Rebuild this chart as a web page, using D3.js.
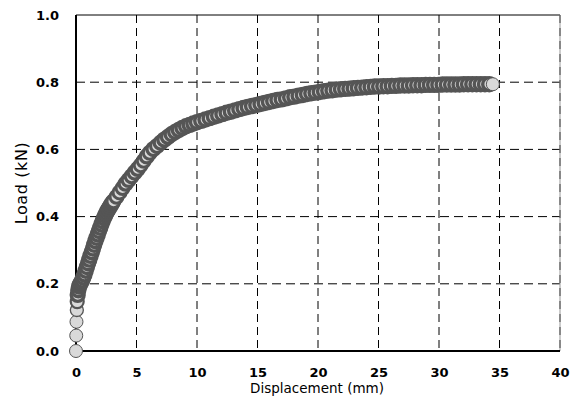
<!DOCTYPE html>
<html>
<head>
<meta charset="utf-8">
<script src="https://cdn.jsdelivr.net/npm/d3@7.9.0/dist/d3.min.js"></script>
<style>
  body { margin: 0; background: #fff; }
  svg { display: block; }
  .tick text { font-family: "DejaVu Sans", sans-serif; font-size: 13px; font-weight: bold; fill: #000; }
  .title { font-family: "DejaVu Sans", sans-serif; fill: #000; }
</style>
</head>
<body>
<svg id="chart" width="580" height="405"></svg>
<script>
// test data
const displacement = [
  0, 0.02, 0.04, 0.07, 0.1, 0.14, 0.19, 0.25, 0.32, 0.4,
  0.5, 0.6, 0.7, 0.8, 0.9, 1.0, 1.1, 1.2, 1.3, 1.4,
  1.5, 1.6, 1.7, 1.8, 1.9, 2.0, 2.1, 2.2, 2.3, 2.4,
  2.5, 2.6, 2.7, 2.8, 2.9, 3.0, 3.1, 3.35, 3.6, 3.85,
  4.1, 4.35, 4.6, 4.85, 5.1, 5.35, 5.6, 5.85, 6.1, 6.4,
  6.7, 7.0, 7.3, 7.6, 7.9, 8.2, 8.5, 8.8, 9.1, 9.4,
  9.7, 10.0, 10.35, 10.7, 11.05, 11.4, 11.75, 12.1, 12.45, 12.8,
  13.15, 13.5, 13.85, 14.2, 14.55, 14.9, 15.25, 15.6, 15.95, 16.3,
  16.65, 17.0, 17.35, 17.7, 18.05, 18.4, 18.75, 19.1, 19.45, 19.8,
  20.15, 20.5, 20.85, 21.2, 21.55, 21.9, 22.25, 22.6, 22.95, 23.3,
  23.65, 24.0, 24.35, 24.7, 25.05, 25.4, 25.75, 26.1, 26.45, 26.8,
  27.15, 27.5, 27.85, 28.2, 28.55, 28.9, 29.25, 29.6, 29.95, 30.3,
  30.65, 31.0, 31.35, 31.7, 32.05, 32.4, 32.75, 33.1, 33.45, 33.8,
  34.15, 34.45
];
const load = [
  0, 0.046, 0.087, 0.122, 0.147, 0.167, 0.181, 0.192, 0.197, 0.203,
  0.21, 0.219, 0.228, 0.239, 0.25, 0.261, 0.272, 0.283, 0.294, 0.305,
  0.316, 0.327, 0.337, 0.347, 0.357, 0.367, 0.377, 0.386, 0.395, 0.403,
  0.41, 0.417, 0.423, 0.429, 0.435, 0.441, 0.446, 0.459, 0.472, 0.485,
  0.498, 0.509, 0.52, 0.531, 0.542, 0.553, 0.566, 0.579, 0.59, 0.601,
  0.61, 0.62, 0.629, 0.637, 0.645, 0.652, 0.658, 0.664, 0.669, 0.673,
  0.677, 0.681, 0.685, 0.689, 0.693, 0.697, 0.701, 0.705, 0.709, 0.712,
  0.716, 0.72, 0.723, 0.726, 0.729, 0.732, 0.735, 0.738, 0.741, 0.744,
  0.747, 0.749, 0.752, 0.755, 0.757, 0.76, 0.762, 0.765, 0.767, 0.769,
  0.771, 0.773, 0.775, 0.776, 0.778, 0.779, 0.78, 0.781, 0.782, 0.783,
  0.784, 0.785, 0.786, 0.787, 0.787, 0.788, 0.788, 0.789, 0.789, 0.79,
  0.79, 0.79, 0.791, 0.791, 0.791, 0.792, 0.792, 0.792, 0.792, 0.793,
  0.793, 0.793, 0.793, 0.793, 0.794, 0.794, 0.794, 0.794, 0.794, 0.794,
  0.794, 0.794
];
const xTicks = [0, 5, 10, 15, 20, 25, 30, 35, 40];
const yTicks = [0, 0.2, 0.4, 0.6, 0.8, 1.0];

const svg = d3.select('#chart');
const x = d3.scaleLinear().domain([0, 40]).range([76, 560]);
const y = d3.scaleLinear().domain([0, 1]).range([351, 15]);

const points = displacement.map((d, i) => ({ x: d, y: load[i] }));

// markers packed closely read darker: outline weight follows the gap to the next marker
const gapToWidth = d3.scaleLinear().domain([4.5, 9]).range([3.4, 1]).clamp(true);
points.forEach((p, i) => {
  const n = points[i + 1];
  const gap = n ? Math.hypot(x(n.x) - x(p.x), y(n.y) - y(p.y)) : 99;
  p.sw = gapToWidth(gap);
});

// dashed grid
svg.append('g')
  .selectAll('line')
  .data(xTicks.slice(1, -1))
  .join('line')
  .attr('x1', d => x(d)).attr('x2', d => x(d))
  .attr('y1', y(1)).attr('y2', y(0))
  .attr('stroke', '#000')
  .attr('stroke-dasharray', '8,5');

svg.append('g')
  .selectAll('line')
  .data(yTicks.slice(1, -1))
  .join('line')
  .attr('x1', x(0)).attr('x2', x(40))
  .attr('y1', d => y(d)).attr('y2', d => y(d))
  .attr('stroke', '#000')
  .attr('stroke-dasharray', '9,5');

// frame
svg.append('line')
  .attr('x1', x(0)).attr('x2', x(40)).attr('y1', y(1)).attr('y2', y(1))
  .attr('stroke', '#000').attr('stroke-width', 1);
svg.append('line')
  .attr('x1', x(40)).attr('x2', x(40)).attr('y1', y(1)).attr('y2', y(0))
  .attr('stroke', '#999').attr('stroke-width', 1);
svg.append('line')
  .attr('x1', x(40)).attr('x2', x(40)).attr('y1', y(1)).attr('y2', y(0))
  .attr('stroke', '#444').attr('stroke-width', 1)
  .attr('stroke-dasharray', '8,5');

// axes (labels only)
const xAxis = svg.append('g')
  .attr('transform', `translate(0,${y(0)})`)
  .call(d3.axisBottom(x).tickValues(xTicks).tickSize(0).tickPadding(17).tickFormat(d3.format('d')));
xAxis.select('.domain').remove();

const yAxis = svg.append('g')
  .attr('transform', `translate(${x(0)},0)`)
  .call(d3.axisLeft(y).tickValues(yTicks).tickSize(0).tickPadding(17).tickFormat(d3.format('.1f')));
yAxis.select('.domain').remove();

svg.append('line')
  .attr('x1', x(0)).attr('x2', x(40)).attr('y1', y(0)).attr('y2', y(0))
  .attr('stroke', '#000').attr('stroke-width', 2);
svg.append('line')
  .attr('x1', x(0)).attr('x2', x(0)).attr('y1', y(1)).attr('y2', y(0))
  .attr('stroke', '#000').attr('stroke-width', 2);

// markers
svg.append('g')
  .selectAll('circle')
  .data(points)
  .join('circle')
  .attr('cx', d => x(d.x))
  .attr('cy', d => y(d.y))
  .attr('r', 6.5)
  .attr('fill', '#d9d9d9')
  .attr('stroke', '#555')
  .attr('stroke-width', d => d.sw);

// titles
svg.append('text')
  .attr('class', 'title')
  .attr('x', 317)
  .attr('y', 393)
  .attr('text-anchor', 'middle')
  .style('font-size', '13.5px')
  .text('Displacement (mm)');

svg.append('text')
  .attr('class', 'title')
  .attr('transform', `translate(27,${(y(0) + y(1)) / 2}) rotate(-90)`)
  .attr('text-anchor', 'middle')
  .style('font-size', '16px')
  .style('letter-spacing', '0.6px')
  .text('Load (kN)');
</script>
</body>
</html>
